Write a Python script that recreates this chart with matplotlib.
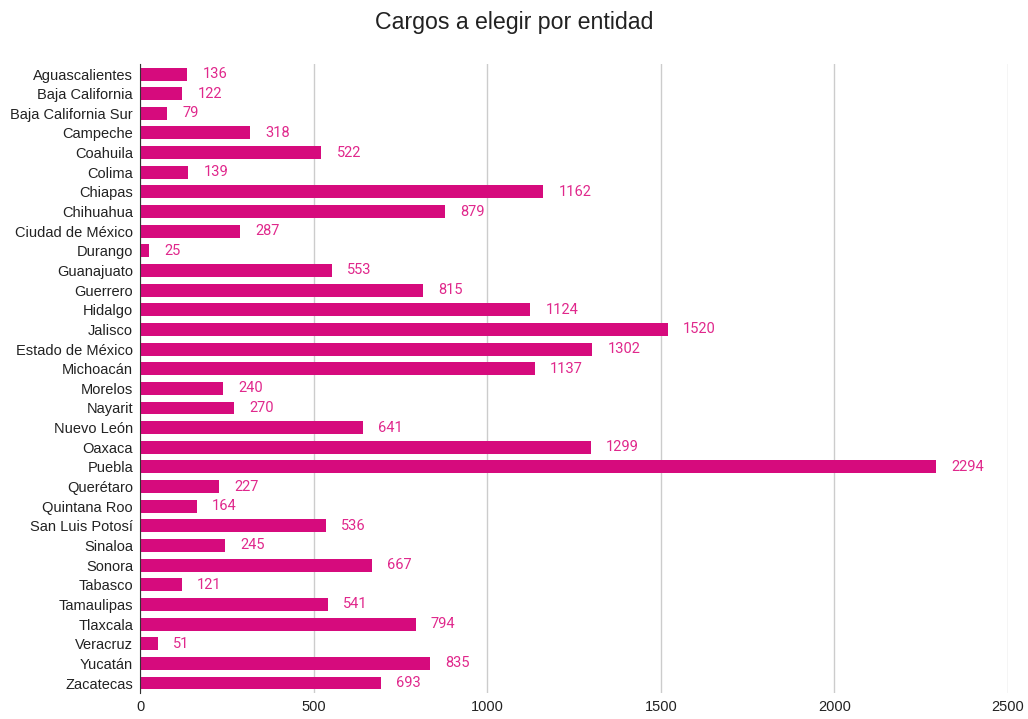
import matplotlib
matplotlib.use("Agg")
import matplotlib.pyplot as plt

entidades = ["Aguascalientes", "Baja California", "Baja California Sur", "Campeche",
             "Coahuila", "Colima", "Chiapas", "Chihuahua", "Ciudad de México",
             "Durango", "Guanajuato", "Guerrero", "Hidalgo", "Jalisco",
             "Estado de México", "Michoacán", "Morelos", "Nayarit", "Nuevo León",
             "Oaxaca", "Puebla", "Querétaro", "Quintana Roo", "San Luis Potosí",
             "Sinaloa", "Sonora", "Tabasco", "Tamaulipas", "Tlaxcala", "Veracruz",
             "Yucatán", "Zacatecas"]
cargos = [136, 122, 79, 318, 522, 139, 1162, 879, 287, 25, 553, 815, 1124, 1520,
          1302, 1137, 240, 270, 641, 1299, 2294, 227, 164, 536, 245, 667, 121,
          541, 794, 51, 835, 693]
xticks = [0, 500, 1000, 1500, 2000, 2500]

bar_color = "#d60b7d"
label_color = "#e0288c"

fig = plt.figure(figsize=(10.28, 7.19), dpi=100)
ax = fig.add_axes([0.1362, 0.0364, 0.8443, 0.8743])

y = range(len(entidades))
ax.barh(y, cargos, height=0.66, color=bar_color, zorder=3)
for yi, v in zip(y, cargos):
    ax.annotate(str(v), (v, yi), xytext=(11, 0), textcoords="offset points",
                va="center", ha="left", color=label_color, fontsize=10.5,
                family="Roboto")

ax.set_ylim(len(entidades) - 0.5, -0.5)
ax.set_xlim(0, 2500)
ax.set_xticks(xticks)
ax.set_yticks(list(y))
ax.set_yticklabels(entidades, family="Liberation Sans", fontsize=10.5, color="#222222")
for lab in ax.get_xticklabels():
    lab.set_family("Liberation Sans")
    lab.set_fontsize(10.5)
    lab.set_color("#222222")
ax.tick_params(length=0, pad=5)
ax.grid(axis="x", color="#cccccc", linewidth=1, zorder=0)
for s in ["top", "right", "bottom"]:
    ax.spines[s].set_visible(False)
ax.spines["left"].set_color("#333333")
ax.spines["left"].set_zorder(4)

fig.text(0.5, 0.969, "Cargos a elegir por entidad", ha="center", va="center",
         fontsize=16.7, family="Liberation Sans", color="#222222")

fig.savefig("out.png", dpi=100)
